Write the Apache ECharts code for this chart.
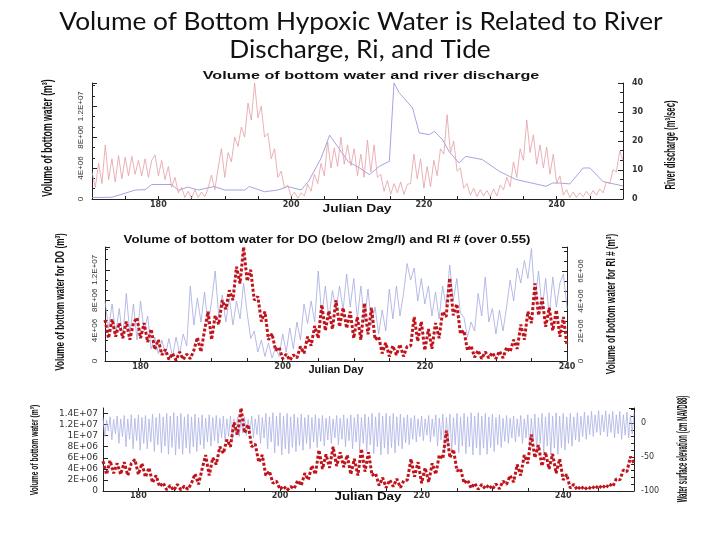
<!DOCTYPE html>
<html>
<head>
<meta charset="utf-8">
<script src="https://cdn.jsdelivr.net/npm/echarts@6/dist/echarts.min.js"></script>
<style>
html, body { margin: 0; background: #fff; }
#main { width: 720px; height: 540px; }
</style>
</head>
<body>
<div id="main"></div>
<script>
// bottom water volume (millions m3), every half day from day 170
const volStart = 170, volStep = 0.5;
const volume = [
    3.5, 1.5, 4.6, 2.0, 7.0, 2.5, 5.2, 2.2, 5.6, 2.6,
    5.4, 3.0, 5.5, 3.2, 5.0, 3.0, 5.2, 2.8, 5.0, 5.7,
    3.0, 5.0, 2.5, 4.2, 1.5, 2.8, 0.8, 1.5, 0.2, 1.0,
    0.1, 1.2, 0.2, 0.9, 0.3, 1.4, 3.1, 1.2, 4.0, 6.5,
    2.8, 6.0, 4.8, 8.0, 6.8, 9.3, 8.0, 12.4, 10.2, 15.0,
    10.5, 12.0, 8.0, 8.5, 5.2, 6.5, 2.8, 3.6, 1.4, 1.8,
    0.3, 0.9, 0.1, 0.8, 0.4, 1.9, 1.0, 3.2, 2.0, 4.6,
    3.0, 7.4, 4.0, 6.6, 4.2, 8.0, 4.5, 7.0, 4.3, 6.5,
    3.0, 5.8, 2.8, 7.6, 3.5, 7.0, 2.8, 3.2, 1.0, 2.4,
    0.6, 2.0, 0.8, 2.2, 0.6, 1.9, 2.0, 5.8, 2.6, 5.2,
    1.4, 4.2, 1.6, 5.0, 3.0, 6.5, 5.8, 10.9, 6.0, 7.5,
    3.6, 4.0, 1.4, 2.0, 0.5, 1.4, 0.3, 1.2, 0.4, 1.1,
    0.3, 1.3, 0.4, 1.8, 1.2, 2.8, 1.6, 4.8, 2.8, 6.5,
    5.0, 10.2, 6.0, 8.3, 4.5, 7.0, 4.0, 6.7, 3.2, 5.8,
    2.0, 3.0, 0.5, 1.2, 0.2, 0.9, 0.2, 0.8, 0.3, 1.0,
    0.4, 1.1, 0.5, 1.3, 0.8, 2.2, 2.0, 3.8, 3.5, 6.2,
    5.0
];

// river discharge (m3/sec)
const dischargeDays = [170, 173, 175, 176.5, 178, 179, 182, 183, 184.4, 186, 188.4, 190, 193, 193.7, 196, 198, 199.5,
    201.5, 202.6, 204.5, 205.8, 208.6, 210.3, 211.8, 213.3, 214.8, 215.5, 216.3, 218.3, 219.3, 220.8, 221.6,
    222.8, 223.8, 225.3, 226.3, 228.8, 231.4, 233.9, 238.4, 239.4, 240.4, 242, 244, 245, 247, 250];
const discharge = [0.5, 0.6, 2.0, 3.1, 3.2, 5.0, 5.0, 3.0, 4.1, 3.1, 4.3, 3.1, 3.1, 4.3, 2.5, 3.1, 4.3,
    3.1, 6.0, 14.0, 22.0, 12.9, 10.7, 8.4, 11.3, 13.0, 40.0, 36.6, 31.4, 22.8, 22.2, 23.3,
    20.5, 16.4, 12.4, 14.7, 13.6, 9.5, 6.7, 4.4, 5.5, 5.5, 5.2, 10.7, 10.7, 6.0, 4.5];

// bottom water volume with Ri over 0.55 (millions m3), every half day from day 175
const riStart = 175, riStep = 0.5;
const riVolume = [
    4.0, 2.2, 3.8, 1.8, 3.5, 1.5, 4.5, 1.8, 3.8, 1.4,
    4.0, 2.0, 3.0, 0.8, 1.6, 0.5, 1.4, 0.4, 1.5, 0.3,
    1.6, 0.5, 1.8, 1.0, 5.0, 2.4, 4.2, 2.6, 4.6, 2.4,
    4.0, 6.0, 3.0, 4.4, 2.6, 4.2, 2.4, 4.0, 2.8, 5.2,
    3.2, 1.5, 2.0, 0.6, 1.4, 0.3, 1.2, 0.2, 0.9, 0.3,
    1.8, 0.6, 2.2, 0.8, 2.6, 1.4, 3.8, 2.5, 4.0, 2.6,
    6.0, 3.0, 5.0, 2.8, 4.7, 3.4, 5.0, 3.4, 5.8, 3.6,
    5.5, 2.8, 5.0, 2.6, 4.8, 2.4, 3.6, 1.8, 3.4, 2.0,
    4.8, 2.8, 5.0, 3.0, 4.5, 6.5, 5.4, 6.2, 4.0, 5.5,
    3.8, 5.0, 3.0, 4.6, 2.8, 5.0, 3.6, 6.4, 4.0, 5.5,
    3.2, 2.9, 1.6, 2.6, 2.0, 4.5, 3.0, 5.6, 2.6, 3.5,
    1.8, 3.4, 2.0, 3.6, 5.4, 4.0, 6.2, 5.2, 6.7, 5.5,
    7.5, 4.0, 6.0, 3.4, 5.5, 3.0, 5.6, 3.6, 5.2, 5.8,
    3.5
];

// water surface elevation (cm NAVD88), every quarter day from day 175
const elevStart = 175, elevStep = 0.25;
const elevation = [
    8, -20, 4, -12,   9, -25, 5, -16,   10, -30, 6, -20,  11, -35, 6, -24,  12, -38, 7, -26,
    12, -40, 8, -30,  11, -38, 6, -28,  13, -42, 8, -32,  14, -44, 9, -34,  14, -46, 10, -36,
    15, -47, 10, -38, 14, -46, 9, -37,  13, -45, 9, -35,  13, -42, 8, -32,  12, -38, 7, -28,
    12, -34, 8, -26,  11, -30, 7, -22,  10, -28, 6, -20,  10, -24, 6, -18,  9, -20, 5, -15,
    9, -18, 5, -14,   10, -22, 6, -17,  12, -30, 8, -22,  14, -38, 9, -28,  15, -44, 10, -34,
    15, -47, 10, -38, 14, -45, 9, -36,  13, -42, 8, -33,  13, -40, 8, -30,  12, -38, 8, -28,
    12, -36, 7, -27,  11, -34, 7, -25,  10, -30, 6, -22,  11, -32, 7, -24,  12, -35, 7, -26,
    12, -38, 8, -28,  13, -40, 8, -30,  13, -42, 9, -32,  14, -45, 9, -35,  15, -47, 10, -37,
    14, -46, 10, -36, 14, -44, 9, -34,  13, -38, 8, -29,  12, -32, 7, -24,  11, -28, 6, -20,
    10, -26, 6, -18,  11, -28, 6, -20,  12, -34, 7, -25,  13, -40, 8, -30,  13, -42, 8, -32,
    14, -44, 9, -34,  14, -45, 9, -35,  15, -47, 10, -37, 15, -47, 10, -37, 14, -46, 9, -36,
    13, -42, 8, -32,  12, -36, 7, -27,  11, -30, 7, -22,  10, -28, 6, -20,  11, -30, 6, -22,
    12, -36, 7, -27,  13, -40, 8, -30,  14, -44, 9, -34,  15, -47, 10, -37, 15, -46, 10, -36,
    14, -40, 9, -30,  14, -34, 9, -25,  15, -28, 10, -20, 16, -24, 11, -17, 17, -20, 12, -14,
    18, -18, 12, -13, 18, -20, 13, -14, 17, -22, 12, -16, 17, -24, 12, -18, 16, -22, 11, -16,
    15
];

function pairs(start, step, vals, lo, hi) {
    let out = [];
    vals.forEach((v, i) => {
        let t = start + i * step;
        if (t >= lo && t <= hi) out.push([t, v]);
    });
    return out;
}

// 4 -> "4E+06", 12 -> "1.2E+07" (values are in millions)
function sci(v) {
    if (v === 0) return '0';
    let parts = (v * 1e6).toExponential().split('e+');
    return parts[0] + 'E+' + parts[1].padStart(2, '0');
}

const axisColor = '#222';
const tickFont = 'Liberation Sans';

function xAx(gi, min, max, margin) {
    return {
        type: 'value', gridIndex: gi, min: min, max: max, interval: 5,
        axisLine: {onZero: false, lineStyle: {color: axisColor, width: 1}},
        axisTick: {inside: true, length: 3, lineStyle: {color: axisColor}},
        axisLabel: {
            formatter: v => (v % 20 === 0 ? String(v) : ''),
            fontFamily: 'DejaVu Sans', fontSize: 8, fontWeight: 'bold', color: '#333', margin: margin
        },
        splitLine: {show: false}
    };
}

function yAx(gi, pos, min, max, interval, extra) {
    let ax = {
        type: 'value', gridIndex: gi, position: pos, min: min, max: max, interval: interval,
        axisLine: {show: true, onZero: false, lineStyle: {color: axisColor, width: 1}},
        axisTick: {show: true, inside: true, length: 5, lineStyle: {color: axisColor}},
        minorTick: {show: true, splitNumber: 3, length: 3, lineStyle: {color: axisColor}},
        axisLabel: {fontFamily: tickFont, fontSize: 8, color: '#333', showMaxLabel: false},
        splitLine: {show: false}
    };
    if (extra.label) Object.assign(ax.axisLabel, extra.label);
    if (extra.minor) Object.assign(ax.minorTick, extra.minor);
    return ax;
}

// text helper for titles and rotated (condensed) axis names
function txt(x, y, s, font, scaleX, rot) {
    return {
        type: 'text', x: x, y: y, rotation: rot || 0, scaleX: scaleX || 1, scaleY: 1,
        style: {
            text: s, font: font, fill: '#111',
            align: 'center', verticalAlign: 'middle',
            textAlign: 'center', textVerticalAlign: 'middle'
        }
    };
}

const up = Math.PI / 2;

let myChart = echarts.init(document.getElementById('main'));
myChart.setOption({
    backgroundColor: '#fff',
    animation: false,
    grid: [
        {left: 92, top: 83, width: 531, height: 116},
        {left: 105, top: 247, width: 462, height: 114},
        {left: 103, top: 408, width: 531, height: 83}
    ],
    xAxis: [
        xAx(0, 170, 250, 2),
        xAx(1, 175, 240, 2),
        xAx(2, 175, 250, 1)
    ],
    yAxis: [
        yAx(0, 'left', 0, 15, 4, {label: {rotate: 90, formatter: sci, margin: 7}}),
        yAx(0, 'right', 0, 40, 10, {label: {margin: 9, fontFamily: 'DejaVu Sans', fontWeight: 'bold', showMaxLabel: true}}),
        yAx(1, 'left', 0, 15, 4, {label: {rotate: 90, formatter: sci, margin: 6}}),
        yAx(1, 'right', 0, 7.6, 2, {label: {rotate: 90, formatter: sci, margin: 10}}),
        yAx(2, 'left', 0, 15, 2, {label: {formatter: sci, margin: 5, fontFamily: 'DejaVu Sans', fontSize: 9}, minor: {show: false}}),
        yAx(2, 'right', -100, 22, 50, {label: {margin: 7, fontFamily: 'DejaVu Sans'}, minor: {splitNumber: 5}})
    ],
    graphic: [
        txt(361, 22, 'Volume of Bottom Hypoxic Water is Related to River', '25px Lato', 1.05),
        txt(360, 50, 'Discharge, Ri, and Tide', '25px Lato', 1.05),
        txt(371, 76, 'Volume of bottom water and river discharge', 'bold 11px "Liberation Sans"', 1.47),
        txt(327, 240, 'Volume of bottom water for DO (below 2mg/l) and RI # (over 0.55)', 'bold 11px "Liberation Sans"', 1.2),
        txt(357, 209, 'Julian Day', 'bold 10px "Liberation Sans"', 1.38),
        txt(336, 370, 'Julian Day', 'bold 10px "Liberation Sans"', 1.1),
        txt(368, 497, 'Julian Day', 'bold 10px "Liberation Sans"', 1.34),
        txt(48, 138, 'Volume of bottom water (m³)', 'bold 15px "Liberation Sans"', 0.58, up),
        txt(671, 145, 'River discharge (m³/sec)', 'bold 15px "Liberation Sans"', 0.51, up),
        txt(61, 302, 'Volume of bottom water for DO (m³)', 'bold 12px "Liberation Sans"', 0.68, up),
        txt(612, 304, 'Volume of bottom water for RI # (m³)', 'bold 12px "Liberation Sans"', 0.68, up),
        txt(35, 450, 'Volume of bottom water (m³)', 'bold 11px "Liberation Sans"', 0.61, up),
        txt(683, 449, 'Water surface elevation (cm NAVD88)', 'bold 14px "Liberation Sans"', 0.43, up)
    ],
    series: [
        {
            type: 'line', xAxisIndex: 0, yAxisIndex: 1, showSymbol: false, z: 2,
            lineStyle: {color: '#8d8dd8', width: 0.8},
            data: dischargeDays.map((d, i) => [d, discharge[i]])
        },
        {
            type: 'line', xAxisIndex: 0, yAxisIndex: 0, showSymbol: false, z: 3,
            lineStyle: {color: '#e39ea5', width: 0.8},
            data: pairs(volStart, volStep, volume, 170, 250)
        },
        {
            type: 'line', xAxisIndex: 1, yAxisIndex: 3, showSymbol: false, z: 2,
            lineStyle: {color: '#a3a9df', width: 0.8},
            data: pairs(riStart, riStep, riVolume, 175, 240)
        },
        {
            type: 'line', xAxisIndex: 1, yAxisIndex: 2, showSymbol: false, z: 3,
            lineStyle: {color: '#c0141d', width: 3, type: [3, 2]},
            data: pairs(volStart, volStep, volume, 175, 240)
        },
        {
            type: 'line', xAxisIndex: 2, yAxisIndex: 5, showSymbol: false, z: 2,
            lineStyle: {color: '#abb1e4', width: 0.8},
            data: pairs(elevStart, elevStep, elevation, 175, 250)
        },
        {
            type: 'line', xAxisIndex: 2, yAxisIndex: 4, showSymbol: false, z: 3,
            lineStyle: {color: '#c0141d', width: 3, type: [3, 2]},
            data: pairs(volStart, volStep, volume, 175, 250)
        }
    ]
});
</script>
</body>
</html>
